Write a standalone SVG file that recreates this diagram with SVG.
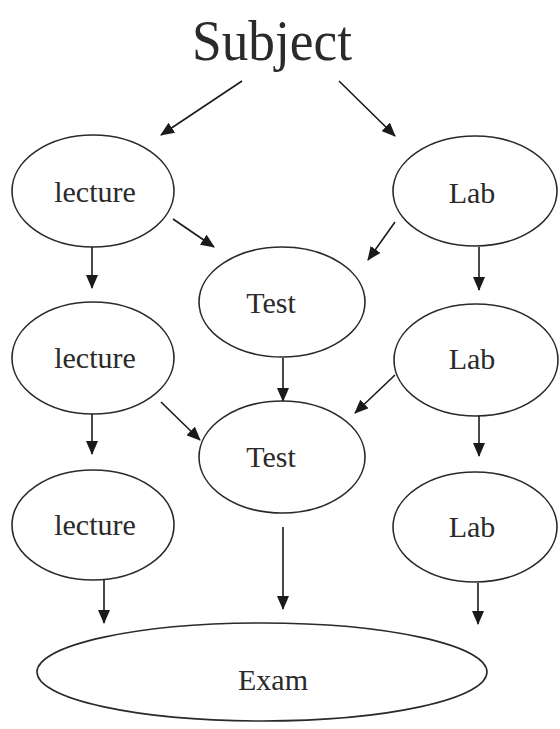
<svg xmlns="http://www.w3.org/2000/svg" width="560" height="729" viewBox="0 0 560 729">
<style>
.n ellipse{fill:none;stroke:#2a2a2a;stroke-width:1.6}
.n text{font-family:"Liberation Serif","Times New Roman",serif;font-size:30px;fill:#2a2a2a;text-anchor:middle}
.c line{stroke:#1a1a1a;stroke-width:1.6;marker-end:url(#ah)}
</style>
<defs>
<marker id="ah" markerUnits="userSpaceOnUse" markerWidth="14" markerHeight="12" viewBox="0 0 14 12" refX="13" refY="6" orient="auto">
<path d="M0,0 L14,6 L0,12 Z" fill="#1a1a1a"/>
</marker>
</defs>
<rect width="560" height="729" fill="#fff"/>
<g id="subject" class="n"><text x="272" y="60" font-size="57" style="font-size:57px" textLength="160" lengthAdjust="spacingAndGlyphs">Subject</text></g>
<g id="lecture1" class="n"><ellipse cx="93" cy="191" rx="81" ry="56"/><text x="95" y="202">lecture</text></g>
<g id="lab1" class="n"><ellipse cx="475" cy="191" rx="82" ry="55"/><text x="472" y="203">Lab</text></g>
<g id="test1" class="n"><ellipse cx="282" cy="302" rx="83" ry="55"/><text x="271" y="313">Test</text></g>
<g id="lecture2" class="n"><ellipse cx="93" cy="358" rx="81" ry="56"/><text x="95" y="368">lecture</text></g>
<g id="lab2" class="n"><ellipse cx="476" cy="360" rx="82" ry="56"/><text x="472" y="369">Lab</text></g>
<g id="test2" class="n"><ellipse cx="282" cy="457" rx="83" ry="56"/><text x="271" y="467">Test</text></g>
<g id="lecture3" class="n"><ellipse cx="93" cy="525" rx="81" ry="55"/><text x="95" y="535">lecture</text></g>
<g id="lab3" class="n"><ellipse cx="475" cy="527" rx="82" ry="55"/><text x="472" y="537">Lab</text></g>
<g id="exam" class="n"><ellipse cx="262" cy="672" rx="225" ry="49"/><text x="273" y="690">Exam</text></g>
<g id="connectors" class="c">
<line x1="242" y1="81" x2="161" y2="135"/>
<line x1="339" y1="81" x2="395" y2="136"/>
<line x1="173" y1="219" x2="214" y2="247"/>
<line x1="395" y1="222" x2="368" y2="260"/>
<line x1="92" y1="247" x2="92" y2="288"/>
<line x1="479" y1="247" x2="479" y2="290"/>
<line x1="283" y1="358" x2="283" y2="401"/>
<line x1="161" y1="402" x2="200" y2="440"/>
<line x1="395" y1="375" x2="355" y2="413"/>
<line x1="92" y1="414" x2="92" y2="454"/>
<line x1="479" y1="416" x2="479" y2="456"/>
<line x1="283" y1="527" x2="283" y2="609"/>
<line x1="104" y1="580" x2="104" y2="623"/>
<line x1="478" y1="583" x2="478" y2="624"/>
</g>
</svg>
